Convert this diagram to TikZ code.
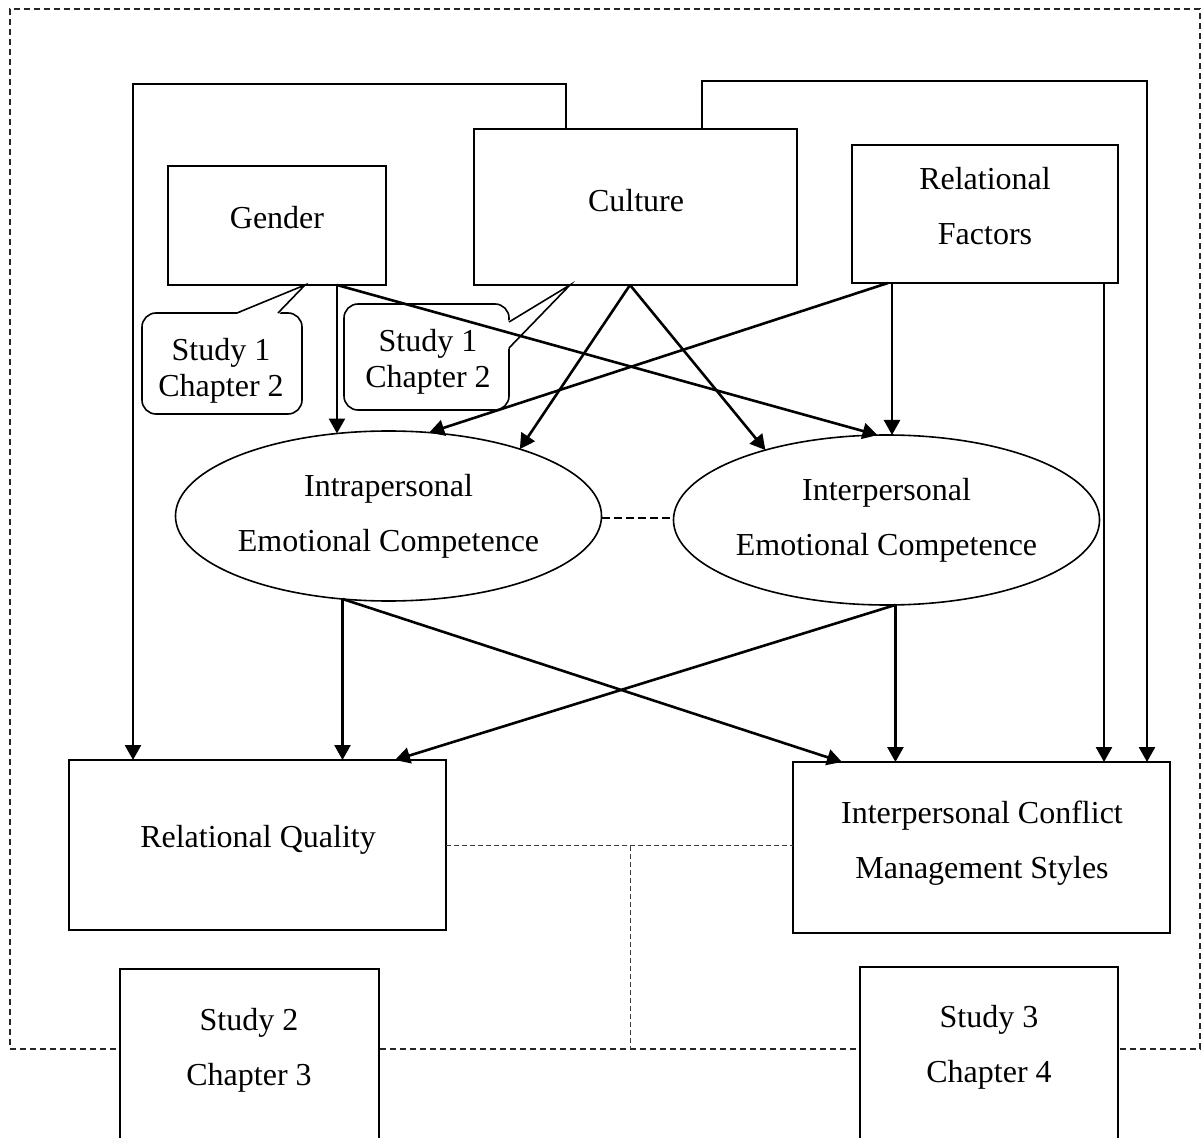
\documentclass[tikz,border=0pt]{standalone}
\usepackage{fontspec}
\setmainfont{Liberation Serif}
\usetikzlibrary{arrows.meta,shapes.geometric}
\begin{document}
\begin{tikzpicture}[x=0.5pt,y=-0.5pt,
  box/.style={draw, line width=1pt, fill=white, inner sep=0pt, outer sep=0pt},
  txt/.style={align=center, font=\fontsize{16}{27.5}\selectfont, inner sep=0pt},
  ctxt/.style={align=center, font=\fontsize{16}{18}\selectfont},
  oval/.style={ellipse, draw, line width=0.8pt, fill=white, minimum width=211.5pt, minimum height=85pt, inner sep=0pt, outer sep=0pt, align=center, font=\fontsize{16}{27.5}\selectfont},
  arr/.style={line width=1.3pt, -{Triangle[length=7.5pt,width=8pt]}},
  bubble/.style={draw, line width=0.8pt, fill=white, rounded corners=7pt, inner sep=0pt, outer sep=0pt},
  tail/.style={line width=0.8pt},
  framebox/.style={draw=black!85, line width=0.6pt, dash pattern=on 3pt off 2pt, inner sep=0pt, outer sep=0pt},
  dashlink/.style={draw=black!75, line width=0.5pt, dash pattern=on 2.5pt off 1.5pt},
  ovallink/.style={line width=0.9pt, dash pattern=on 4pt off 2pt}]
\useasboundingbox (0,0) rectangle (1204,1138);

% outer dashed frame
\node[framebox, minimum width=595pt, minimum height=520pt] (frame) at (605,529) {};

% boxes
\node[box, minimum width=109pt, minimum height=59.5pt] (gender) at (277,225.5) {};
\node[txt] (gendert) at (277,218) {Gender};
\node[box, minimum width=161.5pt, minimum height=78pt] (culture) at (635.5,207) {};
\node[txt] (culturet) at (636,201) {Culture};
\node[box, minimum width=133pt, minimum height=69pt] (relf) at (985,214) {};
\node[txt] (relft) at (985,206.5) {Relational\\Factors};

\node[box, minimum width=188.5pt, minimum height=85pt] (rq) at (257.5,845) {};
\node[txt] (rqt) at (258,840) {Relational Quality};
\node[box, minimum width=188.5pt, minimum height=85.5pt] (icms) at (981.5,847.5) {};
\node[txt] (icmst) at (982,843.5) {Interpersonal Conflict\\Management Styles};

% bottom dashed links
\coordinate (split) at (630,846);
\draw[dashlink] (rq.east) -- (rq.east -| icms.west);
\draw[dashlink] (split) -- (split |- frame.south);

% study boxes
\node[box, minimum width=129.5pt, minimum height=90.5pt] (s2) at (249.5,1059.5) {};
\node[txt] (s2t) at (249,1050.5) {Study 2\\Chapter 3};
\node[box, minimum width=129pt, minimum height=91.5pt] (s3) at (989,1058.5) {};
\node[txt] (s3t) at (989,1047.5) {Study 3\\Chapter 4};

% ellipses
\node[oval] (intra) at (388.5,516) {Intrapersonal\\Emotional Competence};
\node[oval] (inter) at (886.5,520) {Interpersonal\\Emotional Competence};
\draw[ovallink] ([yshift=-1pt]intra.east) -- ([yshift=-1pt]intra.east -| inter.west);

% callouts
\node[bubble, minimum width=80pt, minimum height=50.5pt] (c1) at (222,363.5) {};
\node[ctxt] (c1t) at (221,370.5) {Study 1\\Chapter 2};
\coordinate (tip1) at ([xshift=14pt]gender.south);
\fill[white] ([xshift=7pt,yshift=-0.6pt]c1.north) -- (tip1) -- ([xshift=28.5pt,yshift=-0.6pt]c1.north) -- cycle;
\draw[tail] ([xshift=7.5pt]c1.north) -- (tip1) -- ([xshift=28pt]c1.north);

\node[bubble, minimum width=82.5pt, minimum height=53pt] (c2) at (426.5,357) {};
\node[ctxt] (c2t) at (428,362) {Study 1\\Chapter 2};
\coordinate (tip2) at ([xshift=-32.75pt]culture.south);
\fill[white] ([xshift=-0.6pt,yshift=18pt]c2.east) -- (tip2) -- ([xshift=-0.6pt,yshift=4pt]c2.east) -- cycle;
\draw[tail] ([yshift=17.5pt]c2.east) -- (tip2) -- ([yshift=4.5pt]c2.east);

% loops from culture
\draw[arr] ([xshift=-34.75pt]culture.north) -- ++(0,-45) -| ([xshift=-62.25pt]rq.north);
\draw[arr] ([xshift=33.25pt]culture.north) -- ++(0,-48) -| ([xshift=82.75pt]icms.north);

% arrows to emotional competences
\draw[arr] (gender.south -| intra.122) -- (intra.122);
\draw[arr] (gender.south -| intra.122) -- (inter.96);
\draw[arr] ([xshift=-2.75pt]culture.south) -- (intra.27);
\draw[arr] ([xshift=-2.75pt]culture.south) -- (inter.150);
\draw[arr] ([xshift=-48.5pt]relf.south) -- (intra.64);
\draw[arr] ([xshift=-46.5pt]relf.south) -- ([xshift=-46.5pt]relf.south |- inter.north);
\draw[arr] ([xshift=59.5pt]relf.south) -- ([xshift=59.5pt]relf.south |- icms.north);

% arrows to outcomes
\draw[arr] (intra.241) -- (intra.241 |- rq.north);
\draw[arr] (intra.241) -- ([xshift=-69.75pt]icms.north);
\draw[arr] (inter.276) -- ([xshift=68.75pt]rq.north);
\draw[arr] (inter.276) -- (inter.276 |- icms.north);
\end{tikzpicture}
\end{document}
